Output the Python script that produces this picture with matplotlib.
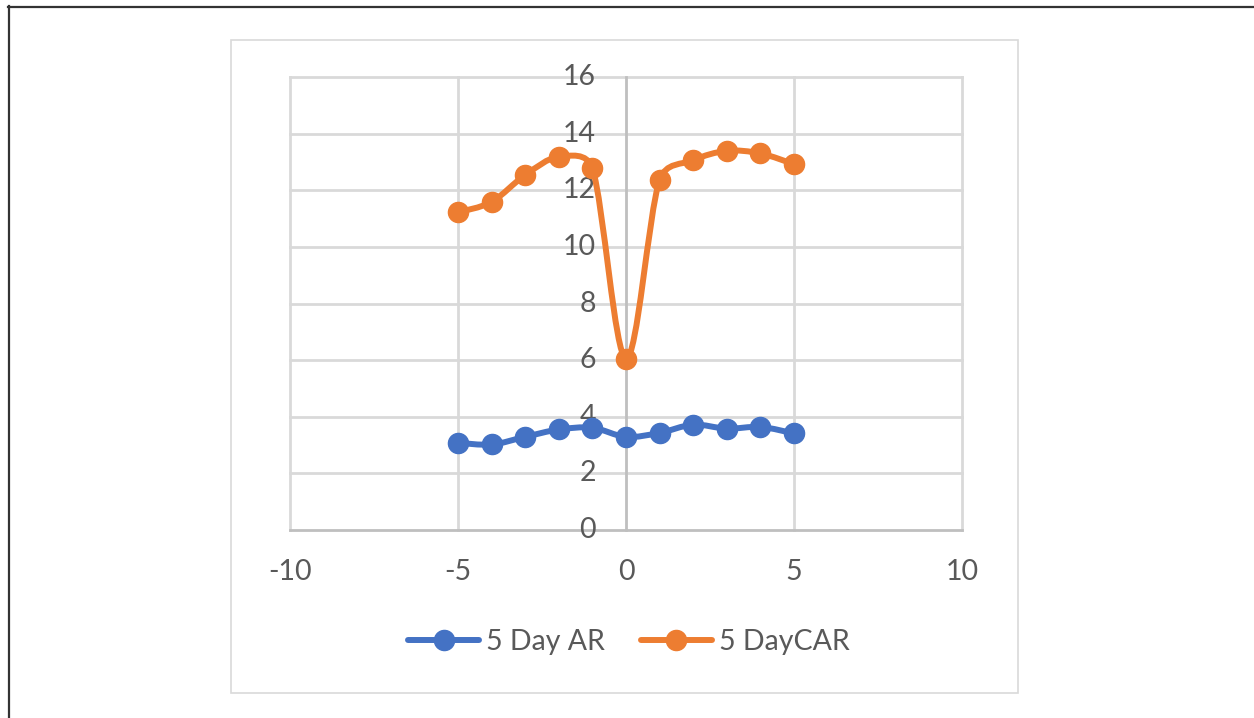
import numpy as np
import matplotlib
matplotlib.use("Agg")
import matplotlib.pyplot as plt
from matplotlib.path import Path
from matplotlib.patches import PathPatch, Rectangle
from matplotlib.lines import Line2D

# ---- data ----
days = [-5, -4, -3, -2, -1, 0, 1, 2, 3, 4, 5]
ar_5day = [3.08, 3.02, 3.29, 3.55, 3.61, 3.29, 3.43, 3.72, 3.58, 3.64, 3.41]
car_5day = [11.22, 11.59, 12.54, 13.18, 12.77, 6.05, 12.36, 13.06, 13.39, 13.30, 12.92]
series_names = ["5 Day AR", "5 DayCAR"]
x_ticks = [-10, -5, 0, 5, 10]
y_ticks = [0, 2, 4, 6, 8, 10, 12, 14, 16]

BLUE = "#4472C4"
ORANGE = "#ED7D31"
GRID = "#D9D9D9"
AXIS = "#BFBFBF"
TEXT = "#595959"
FONT = ["Lato", "DejaVu Sans"]

W, H = 1254, 718
fig = plt.figure(figsize=(W / 100, H / 100), dpi=100)
fig.patch.set_facecolor("white")

# outer black frame (extends past right/bottom edges)
fig.add_artist(Line2D([8 / W, 1.2], [1 - 6.5 / H] * 2, transform=fig.transFigure,
                      color="#333333", lw=1.6))
fig.add_artist(Line2D([8.5 / W] * 2, [1 - 6 / H, -0.2], transform=fig.transFigure,
                      color="#333333", lw=1.6))
# chart area border
fig.add_artist(Rectangle((231 / W, 1 - 693 / H), (1018 - 231) / W, (693 - 40) / H,
                         transform=fig.transFigure, fill=False, ec=GRID, lw=1.2))

x0, x1, y0, y1 = 290, 962, 77, 530
ax = fig.add_axes([x0 / W, 1 - y1 / H, (x1 - x0) / W, (y1 - y0) / H])
ax.set_xlim(-10, 10)
ax.set_ylim(0, 16)
ax.set_facecolor("none")
for s in ax.spines.values():
    s.set_visible(False)
ax.set_xticks([])
ax.set_yticks([])

# gridlines
for yv in y_ticks[1:]:
    ax.axhline(yv, color=GRID, lw=2.0, clip_on=False, zorder=0)
for xv in x_ticks:
    if xv != 0:
        ax.axvline(xv, color=GRID, lw=2.0, clip_on=False, zorder=0)
ax.axvline(0, color=AXIS, lw=2.0, clip_on=False, zorder=1)
ax.axhline(0, color=AXIS, lw=2.0, clip_on=False, zorder=1)

# tick labels
fs = 20.5
for xv in x_ticks:
    ax.annotate(str(xv), (xv, 0), xytext=(0, -42 * 0.72), textcoords="offset points",
                ha="center", va="center", fontsize=fs, color=TEXT, family=FONT)
for yv in y_ticks:
    ax.annotate(str(yv), (0, yv), xytext=(-30 * 0.72, 0), textcoords="offset points",
                ha="right", va="center", fontsize=fs, color=TEXT, family=FONT)

# pixel scale of the data axes (for Excel-like smoothing in screen space)
SX = (x1 - x0) / 20.0
SY = (y1 - y0) / 16.0


def smooth_path(xs, ys):
    pts = np.column_stack([np.asarray(xs, float) * SX, np.asarray(ys, float) * SY])
    n = len(pts)
    verts = [pts[0]]
    codes = [Path.MOVETO]
    for i in range(n - 1):
        p0 = pts[i - 1] if i > 0 else pts[i]
        p1 = pts[i]
        p2 = pts[i + 1]
        p3 = pts[i + 2] if i + 2 < n else pts[i + 1]
        seg = np.linalg.norm(p2 - p1)
        d1 = (p2 - p0) / 6.0
        d2 = (p3 - p1) / 6.0
        lim = 0.5 * seg
        for d in (d1, d2):
            L = np.linalg.norm(d)
            if L > lim:
                d *= lim / L
        verts += [p1 + d1, p2 - d2, p2]
        codes += [Path.CURVE4] * 3
    verts = np.array(verts)
    verts[:, 0] /= SX
    verts[:, 1] /= SY
    return Path(verts, codes)


lw = 4.3
ms = 14.5
for ys, col in [(ar_5day, BLUE), (car_5day, ORANGE)]:
    ax.add_patch(PathPatch(smooth_path(days, ys), fill=False, ec=col, lw=lw,
                           capstyle="round", joinstyle="round", zorder=3))
    ax.plot(days, ys, linestyle="none", marker="o", ms=ms, color=col, mec=col, zorder=4)

handles = [Line2D([], [], color=c, lw=lw, marker="o", ms=ms, solid_capstyle="round")
           for c in (BLUE, ORANGE)]
fig.legend(handles, series_names, loc="center", bbox_to_anchor=(629 / W, 1 - 642 / H),
           ncol=2, frameon=False, handlelength=2.5, handletextpad=0.25, columnspacing=1.25,
           prop={"family": FONT, "size": fs}, labelcolor=TEXT)

fig.savefig("out.png", dpi=100, facecolor="white")
